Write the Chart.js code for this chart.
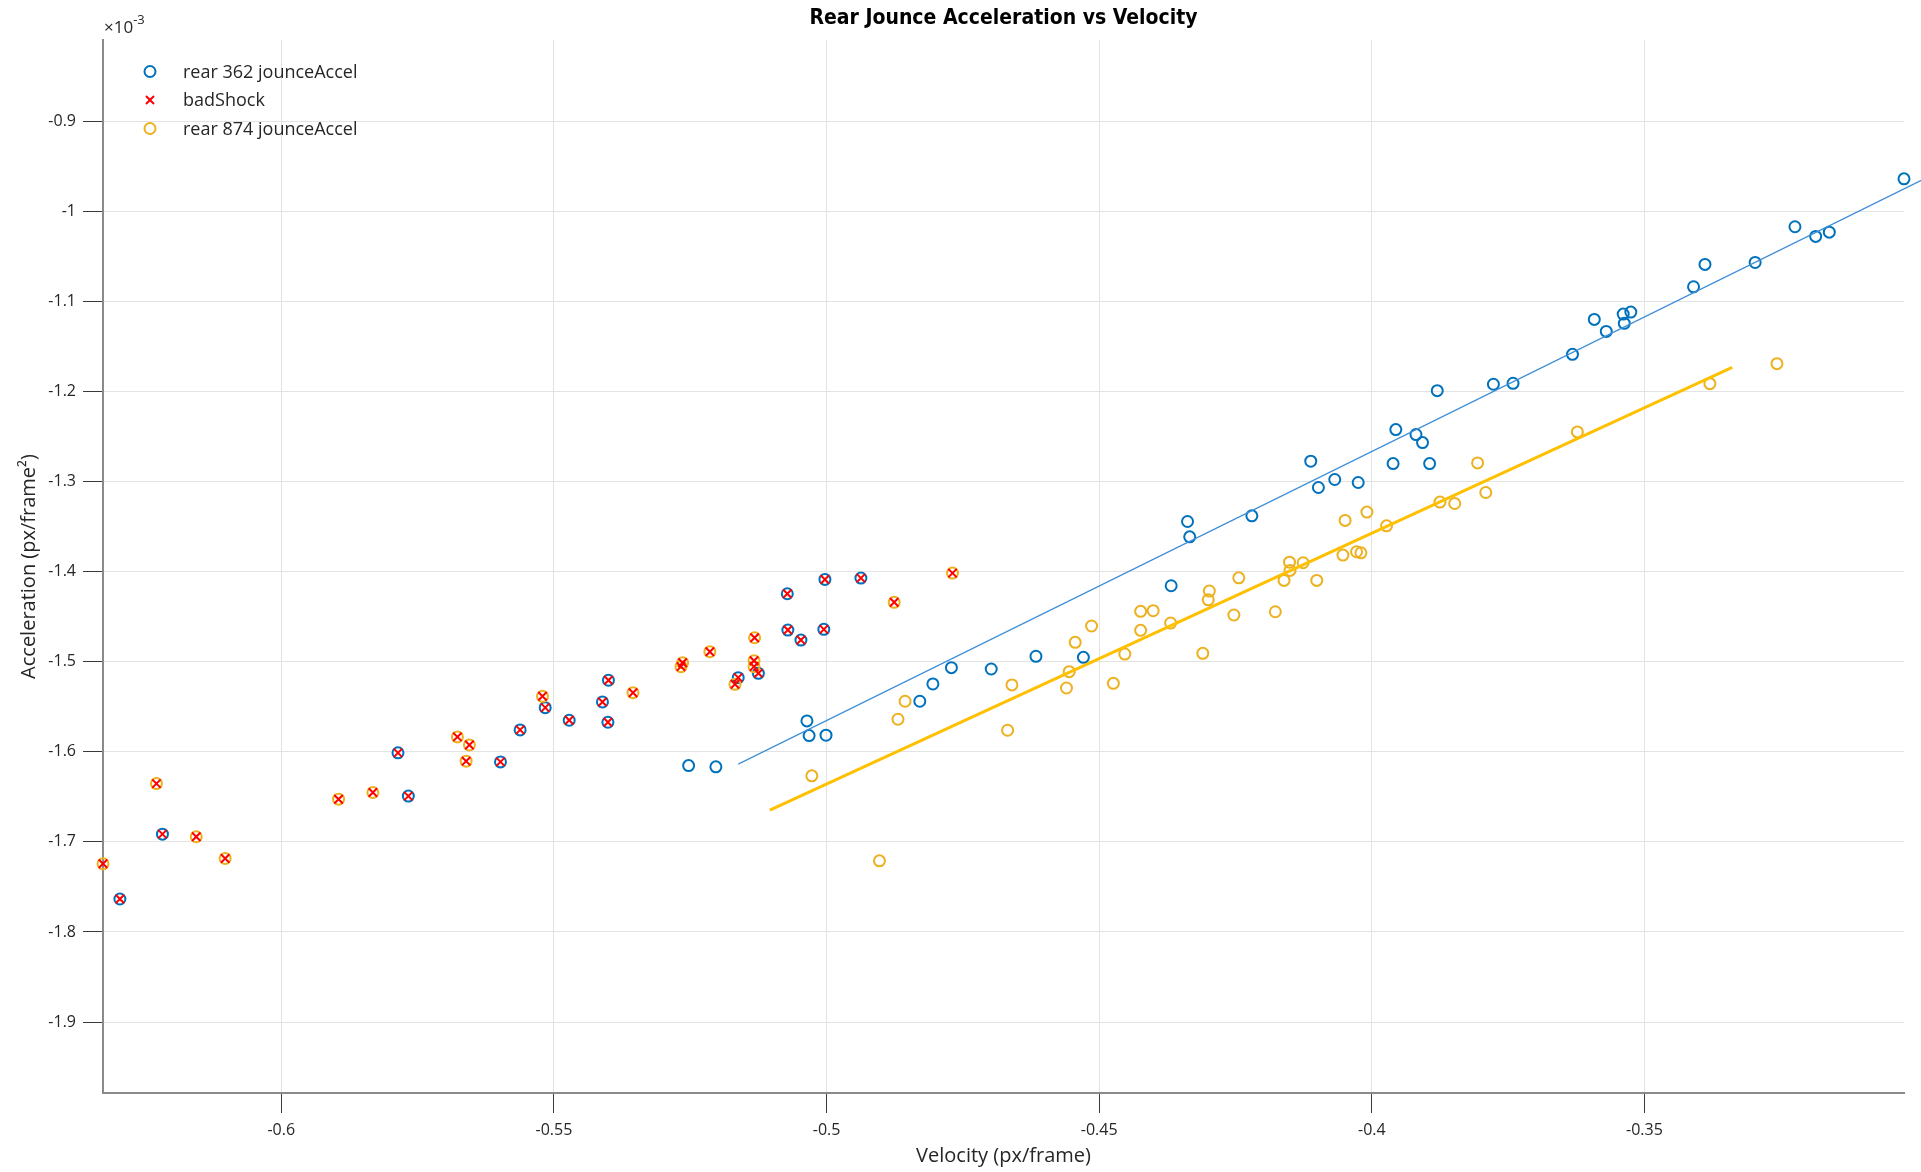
<!DOCTYPE html>
<html>
<head>
<meta charset="utf-8">
<title>Rear Jounce Acceleration vs Velocity</title>
<script src="https://cdn.jsdelivr.net/npm/chart.js@4.4.1/dist/chart.umd.min.js"></script>
<style>
  html, body { margin: 0; padding: 0; background: #ffffff; overflow: hidden; }
  #wrap { width: 1921px; height: 1172px; }
</style>
</head>
<body>
<div id="wrap"><canvas id="chart" width="1921" height="1172"></canvas></div>
<script>
// Velocity in px/frame, acceleration in units of 1e-3 px/frame^2.

// rear 362 jounceAccel
const vel362 = [
  -0.5253, -0.5203, -0.5036, -0.5032, -0.5001, -0.4829, -0.4805, -0.4771, -0.4698, -0.4616,
  -0.4529, -0.4368, -0.4338, -0.4334, -0.4220, -0.4112, -0.4098, -0.4068, -0.4025, -0.3961,
  -0.3956, -0.3919, -0.3907, -0.3894, -0.3880, -0.3777, -0.3741, -0.3632, -0.3592, -0.3570,
  -0.3539, -0.3537, -0.3525, -0.3410, -0.3389, -0.3297, -0.3224, -0.3186, -0.3161, -0.3024,
  -0.6296, -0.6218, -0.5786, -0.5767, -0.5598, -0.5562, -0.5516, -0.5472, -0.5411, -0.5401,
  -0.5400, -0.5162, -0.5125, -0.5072, -0.5071, -0.5047, -0.5005, -0.5003, -0.4937
];
const acc362 = [
  -1.6153, -1.6167, -1.5657, -1.5820, -1.5816, -1.5439, -1.5247, -1.5066, -1.5081, -1.4940,
  -1.4952, -1.4157, -1.3444, -1.3614, -1.3381, -1.2775, -1.3067, -1.2978, -1.3011, -1.2801,
  -1.2424, -1.2479, -1.2568, -1.2801, -1.1992, -1.1921, -1.1910, -1.1589, -1.1201, -1.1334,
  -1.1142, -1.1245, -1.1120, -1.0839, -1.0591, -1.0569, -1.0173, -1.0280, -1.0233, -0.9641,
  -1.7634, -1.6914, -1.6012, -1.6492, -1.6112, -1.5757, -1.5510, -1.5650, -1.5447, -1.5672,
  -1.5206, -1.5177, -1.5129, -1.4246, -1.4649, -1.4760, -1.4641, -1.4087, -1.4072
];

// rear 874 jounceAccel
const vel874 = [
  -0.5027, -0.4903, -0.4869, -0.4856, -0.4668, -0.4660, -0.4560, -0.4555, -0.4544, -0.4514,
  -0.4474, -0.4453, -0.4424, -0.4401, -0.4424, -0.4369, -0.4310, -0.4298, -0.4300, -0.4244,
  -0.4253, -0.4177, -0.4161, -0.4151, -0.4150, -0.4126, -0.4101, -0.4053, -0.4049, -0.4028,
  -0.4020, -0.4009, -0.3973, -0.3875, -0.3848, -0.3806, -0.3791, -0.3623, -0.3380, -0.3257,
  -0.6327, -0.6229, -0.6156, -0.6103, -0.5895, -0.5832, -0.5677, -0.5655, -0.5661, -0.5521,
  -0.5355, -0.5267, -0.5264, -0.5214, -0.5168, -0.5132, -0.5133, -0.5133, -0.4876, -0.4769
];
const acc874 = [
  -1.6267, -1.7210, -1.5639, -1.5439, -1.5761, -1.5258, -1.5292, -1.5111, -1.4785, -1.4604,
  -1.5240, -1.4915, -1.4441, -1.4434, -1.4652, -1.4571, -1.4907, -1.4216, -1.4313, -1.4069,
  -1.4482, -1.4446, -1.4098, -1.3895, -1.3987, -1.3902, -1.4098, -1.3817, -1.3432, -1.3780,
  -1.3792, -1.3340, -1.3492, -1.3229, -1.3244, -1.2794, -1.3122, -1.2450, -1.1914, -1.1692,
  -1.7243, -1.6353, -1.6943, -1.7184, -1.6526, -1.6452, -1.5835, -1.5924, -1.6104, -1.5384,
  -1.5344, -1.5055, -1.5011, -1.4889, -1.5251, -1.4734, -1.4989, -1.5055, -1.4341, -1.4017
];

// badShock samples (excluded from the fits)
const velBad = [
  -0.6296, -0.6218, -0.5786, -0.5767, -0.5598, -0.5562, -0.5516, -0.5472, -0.5411, -0.5401,
  -0.5400, -0.5162, -0.5125, -0.5072, -0.5071, -0.5047, -0.5005, -0.5003, -0.4937,
  -0.6327, -0.6229, -0.6156, -0.6103, -0.5895, -0.5832, -0.5677, -0.5655, -0.5661, -0.5521,
  -0.5355, -0.5267, -0.5264, -0.5214, -0.5168, -0.5132, -0.5133, -0.5133, -0.4876, -0.4769
];
const accBad = [
  -1.7634, -1.6914, -1.6012, -1.6492, -1.6112, -1.5757, -1.5510, -1.5650, -1.5447, -1.5672,
  -1.5206, -1.5177, -1.5129, -1.4246, -1.4649, -1.4760, -1.4641, -1.4087, -1.4072,
  -1.7243, -1.6353, -1.6943, -1.7184, -1.6526, -1.6452, -1.5835, -1.5924, -1.6104, -1.5384,
  -1.5344, -1.5055, -1.5011, -1.4889, -1.5251, -1.4734, -1.4989, -1.5055, -1.4341, -1.4017
];

// Linear fit lines (end points)
const fitVel362 = [-0.5162, -0.2992];
const fitAcc362 = [-1.6137, -0.9657];
const fitVel874 = [-0.5104, -0.3339];
const fitAcc874 = [-1.6648, -1.1733];

// Axis ticks and labels
const xTickVals = [-0.6, -0.55, -0.5, -0.45, -0.4, -0.35];
const xTickLabels = ['-0.6', '-0.55', '-0.5', '-0.45', '-0.4', '-0.35'];
const yTickVals = [-1.9, -1.8, -1.7, -1.6, -1.5, -1.4, -1.3, -1.2, -1.1, -1.0, -0.9];
const yTickLabels = ['-1.9', '-1.8', '-1.7', '-1.6', '-1.5', '-1.4', '-1.3', '-1.2', '-1.1', '-1', '-0.9'];

const seriesNames = ['rear 362 jounceAccel', 'badShock', 'rear 874 jounceAccel'];

const toXY = (xs, ys) => xs.map((x, i) => ({ x: x, y: ys[i] }));

const FONT = '"Open Sans", "Noto Sans", "DejaVu Sans", sans-serif';
const TEXT = '#262626';
const BLUE = '#0072BD';
const ORANGE = '#EDB120';
const RED = '#FF0000';

// Title, exponent label and in-plot legend
const decorations = {
  id: 'decorations',
  afterDraw(chart) {
    const ctx = chart.ctx;
    const area = chart.chartArea;
    ctx.save();
    // title
    ctx.fillStyle = '#000000';
    ctx.font = 'bold 21px "Liberation Sans Narrow", "DejaVu Sans Condensed", ' + FONT;
    ctx.textAlign = 'center';
    ctx.textBaseline = 'middle';
    ctx.fillText('Rear Jounce Acceleration vs Velocity', (area.left + area.right) / 2, 19);

    // exponent of the y axis
    ctx.fillStyle = TEXT;
    ctx.textAlign = 'left';
    ctx.textBaseline = 'alphabetic';
    ctx.font = '17px ' + FONT;
    ctx.fillText('\u00d710', area.left + 1, 33);
    const w = ctx.measureText('\u00d710').width;
    ctx.font = '13px ' + FONT;
    ctx.fillText('-3', area.left + 1 + w, 24);

    // legend
    const ds = chart.data.datasets;
    const rows = [71.5, 100, 128.5];
    const mx = 150, tx = 183;
    ctx.font = '18px ' + FONT;
    ctx.textBaseline = 'middle';
    for (let i = 0; i < 3; i++) {
      const d = ds[i];
      const y = rows[i];
      ctx.strokeStyle = d.borderColor;
      ctx.lineWidth = d.borderWidth;
      ctx.beginPath();
      if (d.pointStyle === 'crossRot') {
        const r = 4;
        ctx.moveTo(mx - r, y - r); ctx.lineTo(mx + r, y + r);
        ctx.moveTo(mx - r, y + r); ctx.lineTo(mx + r, y - r);
      } else {
        ctx.arc(mx, y, d.pointRadius, 0, Math.PI * 2);
      }
      ctx.stroke();
      ctx.fillStyle = TEXT;
      ctx.fillText(d.label, tx, y + 1);
    }
    ctx.restore();
  }
};

new Chart(document.getElementById('chart'), {
  type: 'scatter',
  data: {
    datasets: [
      {
        label: seriesNames[0],
        data: toXY(vel362, acc362),
        pointStyle: 'circle',
        pointRadius: 5.5,
        borderColor: BLUE,
        backgroundColor: 'rgba(0,0,0,0)',
        borderWidth: 2,
        clip: false,
        order: 4
      },
      {
        label: seriesNames[1],
        data: toXY(velBad, accBad),
        pointStyle: 'crossRot',
        pointRadius: 6,
        borderColor: RED,
        backgroundColor: RED,
        borderWidth: 2,
        clip: false,
        order: 0
      },
      {
        label: seriesNames[2],
        data: toXY(vel874, acc874),
        pointStyle: 'circle',
        pointRadius: 5.5,
        borderColor: ORANGE,
        backgroundColor: 'rgba(0,0,0,0)',
        borderWidth: 2,
        clip: false,
        order: 3
      },
      {
        label: 'fit 362',
        data: toXY(fitVel362, fitAcc362),
        showLine: true,
        pointRadius: 0,
        borderColor: '#3f8fd8',
        borderWidth: 1.2,
        clip: false,
        order: 1
      },
      {
        label: 'fit 874',
        data: toXY(fitVel874, fitAcc874),
        showLine: true,
        pointRadius: 0,
        borderColor: '#FFC000',
        borderWidth: 3,
        order: 2
      }
    ]
  },
  options: {
    responsive: false,
    animation: false,
    devicePixelRatio: 1,
    layout: { padding: { left: 0, top: 40, right: 17, bottom: 0 } },
    plugins: {
      legend: { display: false },
      title: { display: false },
      tooltip: { enabled: false }
    },
    scales: {
      x: {
        type: 'linear',
        min: -0.6327,
        max: -0.3024,
        afterBuildTicks: (s) => { s.ticks = xTickVals.map(v => ({ value: v })); },
        afterFit: (s) => { s.height = 79; },
        ticks: {
          color: TEXT,
          font: { family: FONT, size: 16 },
          padding: 8,
          maxRotation: 0,
          autoSkip: false,
          callback: (v) => { const i = xTickVals.findIndex(t => Math.abs(t - v) < 1e-9); return i >= 0 ? xTickLabels[i] : ''; }
        },
        grid: { color: '#e3e3e3', lineWidth: 1, drawTicks: true, tickLength: 20, tickColor: '#3a3a3a', tickWidth: 1 },
        border: { display: true, color: '#8a8a8a', width: 2 },
        title: {
          display: true,
          text: 'Velocity (px/frame)',
          color: TEXT,
          font: { family: FONT, size: 20 },
          padding: { top: 0, bottom: 4 }
        }
      },
      y: {
        type: 'linear',
        min: -1.9787,
        max: -0.810,
        afterBuildTicks: (s) => { s.ticks = yTickVals.map(v => ({ value: v })); },
        afterFit: (s) => { s.width = 103; },
        ticks: {
          color: TEXT,
          font: { family: FONT, size: 16 },
          padding: 7,
          autoSkip: false,
          callback: (v) => { const i = yTickVals.findIndex(t => Math.abs(t - v) < 1e-9); return i >= 0 ? yTickLabels[i] : ''; }
        },
        grid: { color: '#e3e3e3', lineWidth: 1, drawTicks: true, tickLength: 20, tickColor: '#3a3a3a', tickWidth: 1 },
        border: { display: true, color: '#8a8a8a', width: 2 },
        title: {
          display: true,
          text: 'Acceleration (px/frame\u00b2)',
          color: TEXT,
          font: { family: FONT, size: 20 },
          padding: { top: 17, bottom: 0 }
        }
      }
    }
  },
  plugins: [decorations]
});
</script>
</body>
</html>
